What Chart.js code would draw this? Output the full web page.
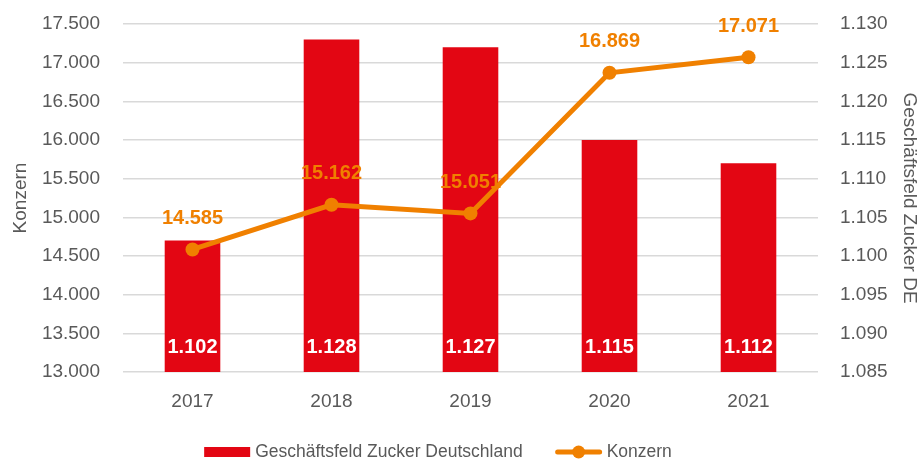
<!DOCTYPE html>
<html>
<head>
<meta charset="utf-8">
<script src="https://cdn.jsdelivr.net/npm/chart.js@4.4.1/dist/chart.umd.min.js"></script>
<style>
  html, body { margin: 0; padding: 0; background: #fff; }
  #wrap { width: 922px; height: 461px; }
</style>
</head>
<body>
<div id="wrap"><canvas id="myChart"></canvas></div>
<script>
var years = ['2017', '2018', '2019', '2020', '2021'];
var zuckerDE = [1102, 1128, 1127, 1115, 1112];
var konzern = [14585, 15162, 15051, 16869, 17071];
var leftTicks = { min: 13000, max: 17500, step: 500 };
var rightTicks = { min: 1085, max: 1130, step: 5 };

var FONT = "'Liberation Sans Narrow', 'Arial Narrow', 'Liberation Sans', Arial, sans-serif";
var GREY = '#595959';
var RED = '#E30613';
var ORANGE = '#F08000';

function fmt(v) {
  return String(Math.round(v)).replace(/\B(?=(\d{3})+(?!\d))/g, '.');
}

// value labels on the points and bars
var valueLabels = {
  id: 'valueLabels',
  afterDatasetsDraw: function(chart) {
    var ctx = chart.ctx;
    ctx.save();
    ctx.textAlign = 'center';
    ctx.textBaseline = 'middle';
    ctx.font = 'bold 20px ' + FONT;
    chart.data.datasets.forEach(function(ds, i) {
      var meta = chart.getDatasetMeta(i);
      meta.data.forEach(function(el, j) {
        if (ds.type === 'line') {
          ctx.fillStyle = ORANGE;
          ctx.fillText(fmt(ds.data[j]), el.x, el.y - 31);
        } else {
          ctx.fillStyle = '#fff';
          ctx.fillText(fmt(ds.data[j]), el.x, chart.chartArea.bottom - 25);
        }
      });
    });
    ctx.restore();
  }
};

// legend at the bottom, bar box and line-with-dot symbol
var bottomLegend = {
  id: 'bottomLegend',
  afterDraw: function(chart) {
    var ctx = chart.ctx;
    var sets = chart.data.datasets;
    ctx.save();
    ctx.font = '17.5px ' + FONT;
    ctx.textBaseline = 'middle';
    var symW = 46, gapSym = 5, gapItem = 33;
    var total = 0;
    sets.forEach(function(ds, i) {
      total += symW + gapSym + ctx.measureText(ds.label).width;
      if (i < sets.length - 1) total += gapItem;
    });
    var x = 438 - total / 2;
    var y = 452;
    sets.forEach(function(ds) {
      if (ds.type === 'line') {
        ctx.strokeStyle = ds.borderColor;
        ctx.lineWidth = 5;
        ctx.lineCap = 'round';
        ctx.beginPath();
        ctx.moveTo(x + 2, y);
        ctx.lineTo(x + symW - 2, y);
        ctx.stroke();
        ctx.fillStyle = ds.borderColor;
        ctx.beginPath();
        ctx.arc(x + symW / 2, y, 6.5, 0, Math.PI * 2);
        ctx.fill();
      } else {
        ctx.fillStyle = ds.backgroundColor;
        ctx.fillRect(x, y - 5, symW, 10);
      }
      x += symW + gapSym;
      ctx.fillStyle = GREY;
      ctx.fillText(ds.label, x, y);
      x += ctx.measureText(ds.label).width + gapItem;
    });
    ctx.restore();
  }
};

function fitY(width) {
  return function(s) {
    s.width = width;
    s.paddingTop = 11;
    s.paddingBottom = 11;
  };
}

var ctx = document.getElementById('myChart').getContext('2d');
var myChart = new Chart(ctx, {
  data: {
    labels: years,
    datasets: [{
      type: 'bar',
      label: 'Geschäftsfeld Zucker Deutschland',
      data: zuckerDE,
      yAxisID: 'yRight',
      backgroundColor: RED,
      categoryPercentage: 1,
      barPercentage: 0.4,
      order: 1
    }, {
      type: 'line',
      label: 'Konzern',
      data: konzern,
      yAxisID: 'yLeft',
      borderColor: ORANGE,
      backgroundColor: ORANGE,
      borderWidth: 5,
      pointRadius: 7,
      pointBorderWidth: 0,
      pointBackgroundColor: ORANGE,
      tension: 0,
      order: 0
    }]
  },
  options: {
    responsive: true,
    maintainAspectRatio: false,
    animation: false,
    layout: { padding: { top: 24, right: 0, bottom: 0, left: 0 } },
    plugins: {
      legend: { display: false },
      tooltip: { enabled: false }
    },
    scales: {
      x: {
        grid: { display: false },
        border: { display: false },
        ticks: { color: GREY, font: { family: FONT, size: 19 }, padding: 10 },
        afterFit: function(s) { s.height = 89; }
      },
      yLeft: {
        position: 'left',
        min: leftTicks.min,
        max: leftTicks.max,
        border: { display: false },
        grid: { color: '#d9d9d9', lineWidth: 1.5, drawTicks: false },
        ticks: {
          stepSize: leftTicks.step,
          color: GREY,
          font: { family: FONT, size: 19 },
          padding: 23,
          callback: function(v) { return fmt(v); }
        },
        title: {
          display: true,
          text: 'Konzern',
          color: GREY,
          font: { family: FONT, size: 19 },
          padding: { top: 9, bottom: 0 }
        },
        afterFit: fitY(123)
      },
      yRight: {
        position: 'right',
        min: rightTicks.min,
        max: rightTicks.max,
        border: { display: false },
        grid: { display: false, drawTicks: false },
        ticks: {
          stepSize: rightTicks.step,
          color: GREY,
          font: { family: FONT, size: 19 },
          padding: 22,
          callback: function(v) { return fmt(v); }
        },
        title: {
          display: true,
          text: 'Geschäftsfeld Zucker DE',
          color: GREY,
          font: { family: FONT, size: 19 },
          padding: { top: 1, bottom: 0 }
        },
        afterFit: fitY(104)
      }
    }
  },
  plugins: [valueLabels, bottomLegend]
});
</script>
</body>
</html>
